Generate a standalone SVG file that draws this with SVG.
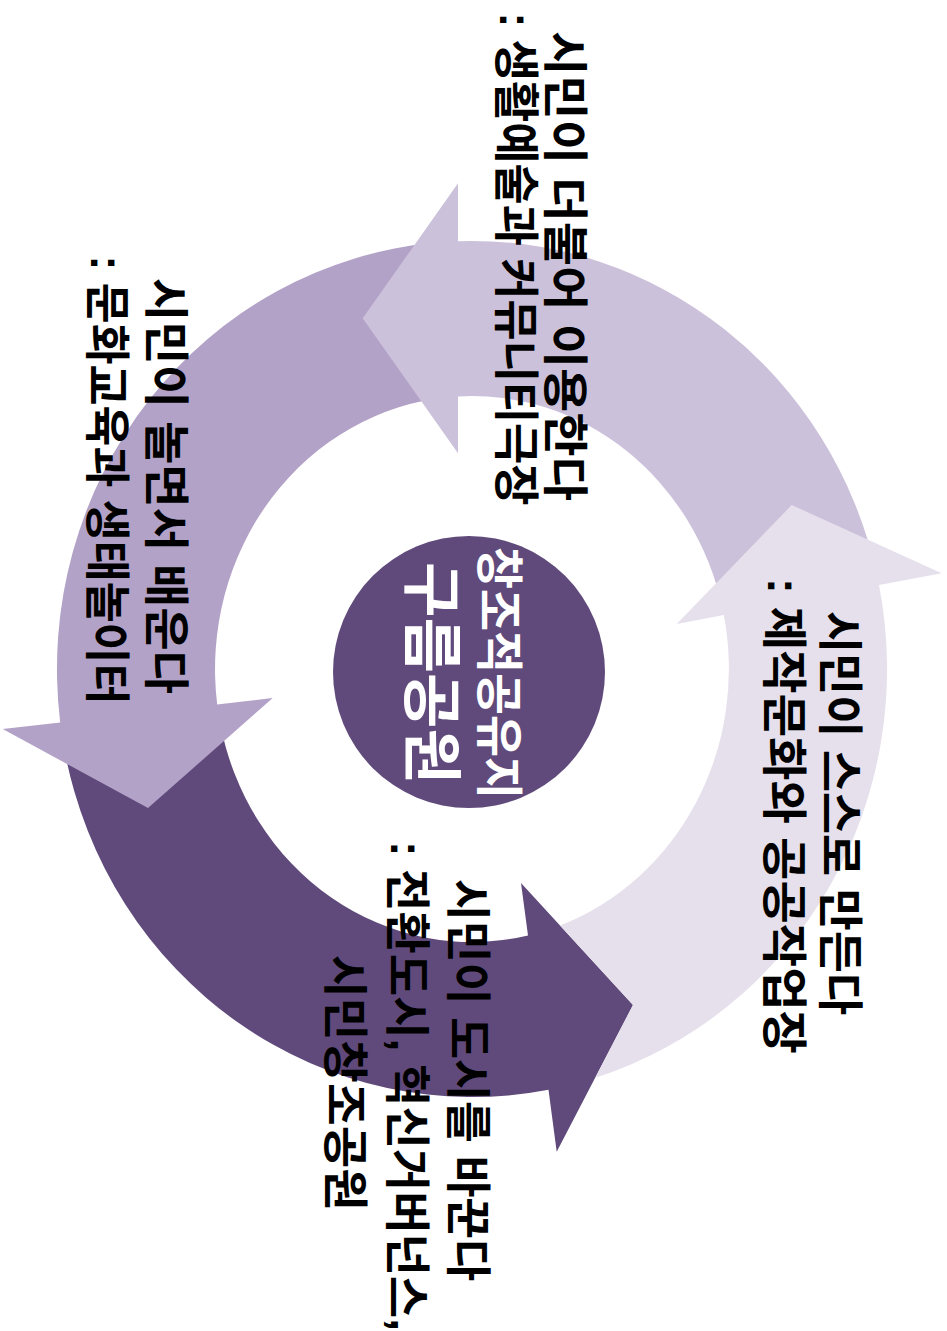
<svg xmlns="http://www.w3.org/2000/svg" width="947" height="1331" viewBox="0 0 947 1331">
<style>
.t{font-family:'Liberation Sans','Noto Sans CJK KR',sans-serif;font-weight:bold;font-size:46px;fill:#000;text-anchor:middle}
.c{font-family:'Liberation Sans','Noto Sans CJK KR',sans-serif;font-weight:bold;fill:#fff;text-anchor:middle}
.a1{fill:#CCC1DA}.a2{fill:#E6E0EC}.a3{fill:#B3A2C7}.a4{fill:#604A7B}
</style>
<rect width="947" height="1331" fill="#fff"/>
<g id="connectors"></g>
<g id="node-arrow4">
<path class="a4" d="M 64.6 750.7 A 415 428 0 0 0 548.5 1089.7 L 556.7 1151.7 L 633 1005 L 521 883 L 528.0 935.5 A 257 273 0 0 1 219.7 721.1 Z"/>
<text class="t" transform="translate(452,1080) rotate(90)" textLength="402" lengthAdjust="spacingAndGlyphs">시민이 도시를 바꾼다</text>
<text class="t" transform="translate(391,1086) rotate(90)" textLength="490" lengthAdjust="spacingAndGlyphs">: 전환도시, 혁신거버넌스,</text>
<text class="t" transform="translate(329,1083) rotate(90)" textLength="256" lengthAdjust="spacingAndGlyphs">시민창조공원</text>
</g>
<g id="node-arrow3">
<path class="a3" d="M 435.8 242.6 A 415 428 0 0 0 60.2 722.4 L 2.7 729 L 148 808 L 272.7 698 L 217.2 704.4 A 257 273 0 0 1 449.6 397.0 Z"/>
<text class="t" transform="translate(150,486) rotate(90)" textLength="416" lengthAdjust="spacingAndGlyphs">시민이 놀면서 배운다</text>
<text class="t" transform="translate(91,480) rotate(90)" textLength="449" lengthAdjust="spacingAndGlyphs">: 문화교육과 생태놀이터</text>
</g>
<g id="node-arrow1">
<path class="a1" d="M 876.4 572.7 A 415 428 0 0 0 458 241.2 L 458 183.3 L 362.7 318.3 L 458 453.3 L 458 396.4 A 257 273 0 0 1 722.4 607.6 Z"/>
<text class="t" transform="translate(549,266) rotate(90)" textLength="470" lengthAdjust="spacingAndGlyphs">시민이 더불어 이용한다</text>
<text class="t" transform="translate(500,259) rotate(90)" textLength="493" lengthAdjust="spacingAndGlyphs">: 생활예술과 커뮤니티극장</text>
</g>
<g id="node-arrow2">
<path class="a2" d="M 595.2 1077.8 A 415 428 0 0 0 879.0 585.1 L 941.7 573.3 L 791.7 505 L 676.7 624 L 723.8 615.0 A 257 273 0 0 1 560.0 925.5 L 633 1005 Z"/>
<text class="t" transform="translate(824,813) rotate(90)" textLength="404" lengthAdjust="spacingAndGlyphs">시민이 스스로 만든다</text>
<text class="t" transform="translate(768,816) rotate(90)" textLength="476" lengthAdjust="spacingAndGlyphs">: 제작문화와 공공작업장</text>
</g>
<g id="node-center">
<circle cx="469" cy="672" r="136" fill="#604A7B"/>
<text class="c" font-size="48" transform="translate(482,673) rotate(90)" textLength="252" lengthAdjust="spacingAndGlyphs">창조적공유지</text>
<text class="c" font-size="60" transform="translate(410,673) rotate(90)" textLength="222" lengthAdjust="spacingAndGlyphs">구름공원</text>
</g>
</svg>
